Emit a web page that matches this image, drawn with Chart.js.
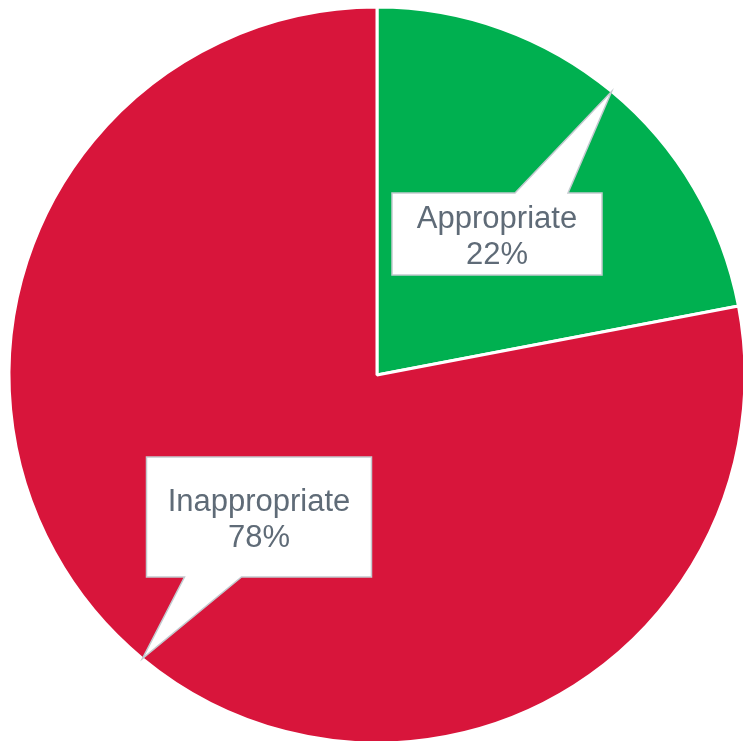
<!DOCTYPE html>
<html>
<head>
<meta charset="utf-8">
<script src="https://cdn.jsdelivr.net/npm/chart.js@4/dist/chart.umd.min.js"></script>
<style>
html,body{margin:0;padding:0;background:#fff;overflow:hidden;}
#wrap{width:743px;height:741px;overflow:hidden;position:relative;}
canvas{display:block;}
</style>
</head>
<body>
<div id="wrap"><canvas id="c" width="760" height="760"></canvas></div>
<script>
const categories = ["Appropriate", "Inappropriate"];
const values = [22, 78];
const sliceColors = ["#00b050", "#d8153b"];

// callout box geometry (relative to pie centre, px) and pointer base offsets along the box edge
const callouts = [
  {dx: 120, dy: -141, w: 210, h: 82, edge: "top", base: [123, 176]},
  {dx: -118, dy: 142, w: 225, h: 120, edge: "bottom", base: [38, 95]}
];

const calloutPlugin = {
  id: "callouts",
  afterDatasetsDraw(chart) {
    const ctx = chart.ctx;
    const meta = chart.getDatasetMeta(0);
    const total = values.reduce((a, b) => a + b, 0);
    meta.data.forEach((arc, i) => {
      const c = callouts[i];
      const mid = (arc.startAngle + arc.endAngle) / 2;
      const tx = arc.x + Math.cos(mid) * arc.outerRadius;
      const ty = arc.y + Math.sin(mid) * arc.outerRadius;
      const cx = arc.x + c.dx, cy = arc.y + c.dy;
      const L = cx - c.w / 2, T = cy - c.h / 2, R = cx + c.w / 2, B = cy + c.h / 2;
      ctx.save();
      ctx.beginPath();
      if (c.edge === "top") {
        ctx.moveTo(L, T);
        ctx.lineTo(L + c.base[0], T);
        ctx.lineTo(tx, ty);
        ctx.lineTo(L + c.base[1], T);
        ctx.lineTo(R, T);
        ctx.lineTo(R, B);
        ctx.lineTo(L, B);
      } else {
        ctx.moveTo(L, T);
        ctx.lineTo(R, T);
        ctx.lineTo(R, B);
        ctx.lineTo(L + c.base[1], B);
        ctx.lineTo(tx, ty);
        ctx.lineTo(L + c.base[0], B);
        ctx.lineTo(L, B);
      }
      ctx.closePath();
      ctx.fillStyle = "#ffffff";
      ctx.fill();
      ctx.lineWidth = 1.5;
      ctx.strokeStyle = "#c3cacf";
      ctx.lineJoin = "miter";
      ctx.stroke();
      ctx.fillStyle = "#5f6b77";
      ctx.font = "31px 'Liberation Sans', Arial, sans-serif";
      ctx.textAlign = "center";
      ctx.textBaseline = "alphabetic";
      const pct = Math.round(values[i] / total * 100) + "%";
      ctx.fillText(categories[i], cx, cy - 6);
      ctx.fillText(pct, cx, cy + 30);
      ctx.restore();
    });
  }
};

new Chart(document.getElementById("c"), {
  type: "pie",
  data: {
    labels: categories,
    datasets: [{
      data: values,
      backgroundColor: sliceColors,
      borderColor: "#ffffff",
      borderWidth: 3,
      hoverOffset: 0,
      radius: 368
    }]
  },
  options: {
    responsive: false,
    animation: false,
    events: [],
    layout: {padding: {left: 10, top: 8, right: 16, bottom: 18}},
    plugins: {legend: {display: false}, tooltip: {enabled: false}}
  },
  plugins: [calloutPlugin]
});
</script>
</body>
</html>
